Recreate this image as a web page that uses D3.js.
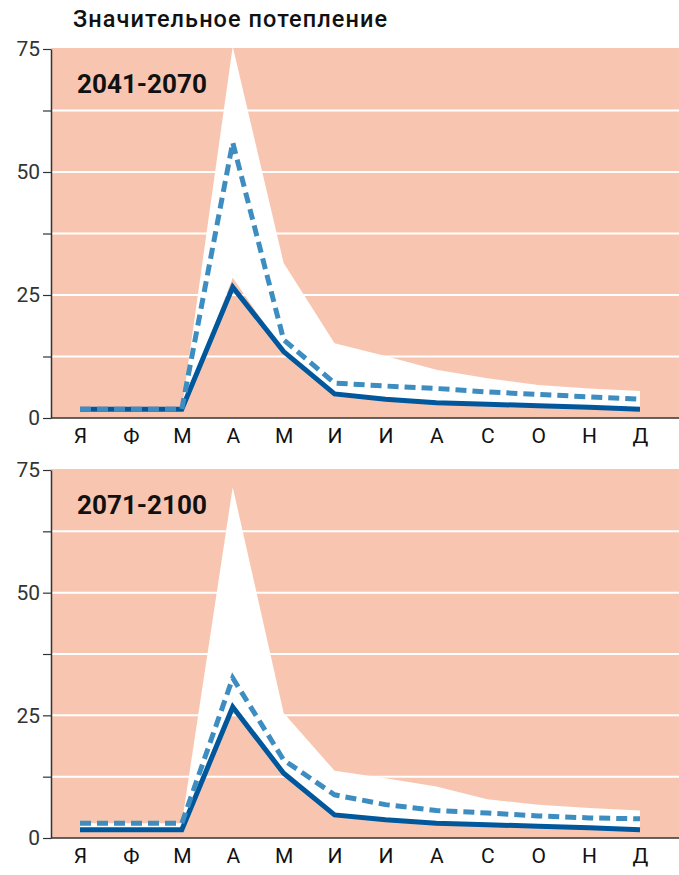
<!DOCTYPE html>
<html>
<head>
<meta charset="utf-8">
<script src="https://cdn.jsdelivr.net/npm/d3@7"></script>
<style>
  html, body { margin: 0; padding: 0; background: #fff; }
  svg { display: block; }
</style>
</head>
<body>
<svg id="chart" width="679" height="875"></svg>
<script>
// ---- DATA ----
const title = "Значительное потепление";
const months = ["Я","Ф","М","А","М","И","И","А","С","О","Н","Д"];
const yTicks = [0, 25, 50, 75];
const gridValues = [12.5, 25, 37.5, 50, 62.5];

const periods = ["2041-2070", "2071-2100"];

// Panel 1 (2041-2070)
const p1Solid  = [1.8, 1.8, 1.8, 26.6, 13.5, 4.9, 3.8, 3.1, 2.8, 2.5, 2.2, 1.8];
const p1Dashed = [1.8, 1.8, 1.8, 56.0, 15.9, 7.1, 6.5, 6.0, 5.3, 4.8, 4.3, 3.8];
const p1Upper  = [1.8, 1.8, 1.8, 75.5, 31.5, 15.2, 12.6, 9.8, 8.1, 6.7, 6.0, 5.5];
const p1Lower  = [1.8, 1.8, 1.8, 28.5, 13.5, 4.9, 3.8, 3.1, 2.8, 2.5, 2.2, 1.8];

// Panel 2 (2071-2100)
const p2Solid  = [1.7, 1.7, 1.7, 26.7, 13.2, 4.7, 3.7, 3.0, 2.7, 2.4, 2.1, 1.7];
const p2Dashed = [3.0, 3.0, 3.0, 32.6, 15.9, 8.8, 6.8, 5.6, 5.1, 4.5, 4.1, 3.9];
const p2Upper  = [3.0, 3.0, 3.0, 71.5, 25.5, 13.7, 12.2, 10.5, 7.9, 6.8, 6.1, 5.6];
const p2Lower  = [1.7, 1.7, 1.7, 26.7, 13.2, 4.7, 3.7, 3.0, 2.7, 2.4, 2.1, 1.7];

const panels = [
  { label: periods[0], solid: p1Solid, dashed: p1Dashed, upper: p1Upper, lower: p1Lower, top: 48, bottom: 418 },
  { label: periods[1], solid: p2Solid, dashed: p2Dashed, upper: p2Upper, lower: p2Lower, top: 469, bottom: 838 }
];

// ---- STYLE ----
const bgColor = "#F8C6B0";
const solidColor = "#00579C";
const dashedColor = "#3D8DC0";
const axisColor = "#333333";
const fontFamily = "Roboto, 'DejaVu Sans', sans-serif";

const svg = d3.select("#chart");
const plotLeft = 51, plotRight = 679;

// Title, fitted to measured width via letter-spacing
const t = svg.append("text")
  .attr("x", 73).attr("y", 27)
  .attr("font-family", fontFamily)
  .attr("font-weight", 500)
  .attr("font-size", 23.5)
  .attr("fill", "#111")
  .text(title);
{
  const w = t.node().getComputedTextLength();
  const ls = (314 - w) / (title.length - 1);
  t.attr("letter-spacing", ls.toFixed(2));
}

const x = d3.scalePoint().domain(d3.range(months.length)).range([80, 640]);

panels.forEach(p => {
  const y = d3.scaleLinear().domain([0, 75]).range([p.bottom, p.top + 1]);
  const g = svg.append("g");

  // background
  g.append("rect")
    .attr("x", plotLeft).attr("y", y(75) - 1)
    .attr("width", plotRight - plotLeft)
    .attr("height", y(0) - y(75) + 1)
    .attr("fill", bgColor);

  // grid
  g.selectAll(".grid").data(gridValues).enter().append("line")
    .attr("x1", plotLeft).attr("x2", plotRight)
    .attr("y1", d => y(d)).attr("y2", d => y(d))
    .attr("stroke", "#fff").attr("stroke-width", 2);

  // band
  const area = d3.area()
    .x((d, i) => x(i))
    .y0((d, i) => y(p.lower[i]))
    .y1(d => y(d));
  g.append("path").datum(p.upper)
    .attr("d", area)
    .attr("fill", "#fff");

  const line = d3.line().x((d, i) => x(i)).y(d => y(d));

  g.append("path").datum(p.solid)
    .attr("d", line)
    .attr("fill", "none")
    .attr("stroke", solidColor)
    .attr("stroke-width", 5)
    .attr("stroke-linejoin", "miter");

  g.append("path").datum(p.dashed)
    .attr("d", line)
    .attr("fill", "none")
    .attr("stroke", dashedColor)
    .attr("stroke-width", 5)
    .attr("stroke-dasharray", "11,6")
    .attr("stroke-linejoin", "miter");

  // y axis
  const yAxis = d3.axisLeft(y)
    .tickValues([0, 12.5, 25, 37.5, 50, 62.5, 75])
    .tickSize(8)
    .tickSizeOuter(0)
    .tickPadding(3)
    .tickFormat(d => yTicks.includes(d) ? d3.format("d")(d) : "");
  const ya = g.append("g").attr("transform", `translate(${plotLeft},0)`).call(yAxis);
  ya.select(".domain").attr("stroke", axisColor).attr("stroke-width", 1.5);
  ya.selectAll(".tick line").attr("stroke", axisColor).attr("stroke-width", 1.2);
  ya.selectAll(".tick text")
    .attr("font-family", fontFamily)
    .attr("font-size", 21)
    .attr("fill", "#333");

  // x axis
  const xAxis = d3.axisBottom(x)
    .tickSize(0)
    .tickPadding(10)
    .tickFormat(i => months[i]);
  const xa = g.append("g").attr("transform", `translate(0,${p.bottom})`).call(xAxis);
  xa.select(".domain").remove();
  xa.selectAll(".tick text")
    .attr("font-family", fontFamily)
    .attr("font-size", 21)
    .attr("fill", "#111");
  g.append("line")
    .attr("x1", plotLeft).attr("x2", plotRight)
    .attr("y1", p.bottom).attr("y2", p.bottom)
    .attr("stroke", axisColor).attr("stroke-width", 1.5);

  // period label
  const lbl = g.append("text")
    .attr("x", 77).attr("y", p.top + 45)
    .attr("font-family", fontFamily)
    .attr("font-weight", 700)
    .attr("font-size", 26)
    .attr("fill", "#111")
    .text(p.label);
  const w = lbl.node().getComputedTextLength();
  lbl.attr("font-size", Math.min(28, 26 * 130 / w));
});
</script>
</body>
</html>
